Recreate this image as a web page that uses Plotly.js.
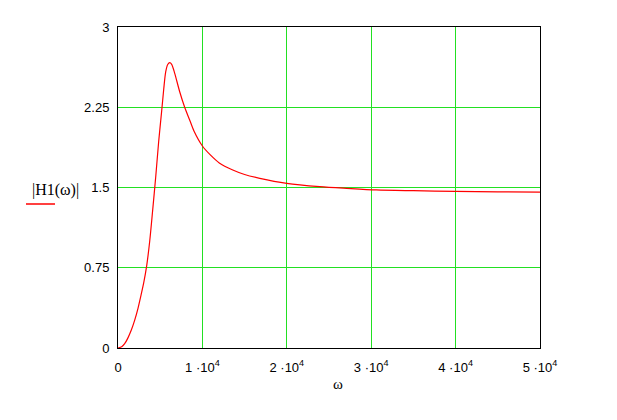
<!DOCTYPE html>
<html>
<head>
<meta charset="utf-8">
<script src="https://cdn.plot.ly/plotly-3.0.1.min.js"></script>
<style>html,body{margin:0;padding:0;background:#fff;}#chart{width:617px;height:420px;}</style>
</head>
<body>
<div id="chart"></div>
<script>
var omega = [0,440,790,1150,1590,1980,2370,2690,3050,3400,3760,4110,4470,4820,5180,5420,5650,5890,6130,6360,6720,7310,7900,8490,9000,10000,11000,12000,13600,15000,16800,20000,23900,27100,30600,35000,40000,45000,50000];
var H1 = [0,0.012,0.04,0.09,0.17,0.26,0.37,0.48,0.61,0.77,1.00,1.29,1.60,1.93,2.22,2.42,2.58,2.65,2.667,2.651,2.567,2.395,2.25,2.131,2.028,1.888,1.80,1.73,1.664,1.622,1.586,1.539,1.508,1.492,1.477,1.470,1.464,1.460,1.456];
var xTickVals = [0,10000,20000,30000,40000,50000];
var xTickText = ["0","1 \u00B710<sup>4</sup>","2 \u00B710<sup>4</sup>","3 \u00B710<sup>4</sup>","4 \u00B710<sup>4</sup>","5 \u00B710<sup>4</sup>"];
var yTickVals = [0,0.75,1.5,2.25,3];
var yTickText = ["0","0.75","1.5","2.25","3"];
var yLabel = "|H1(\u03C9)|";
var xLabel = "\u03C9";

var grid = '#22e022';
var trace = {x: omega, y: H1, type: 'scatter', mode: 'lines',
  line: {color: '#ff0000', width: 1.2, shape: 'spline', smoothing: 0.8},
  hoverinfo: 'skip', showlegend: false};

var layout = {
  width: 617, height: 420,
  margin: {l: 118, r: 77, t: 27, b: 72, pad: 0},
  paper_bgcolor: '#ffffff', plot_bgcolor: '#ffffff',
  font: {family: 'Liberation Sans, Arial, sans-serif', size: 13, color: '#000'},
  xaxis: {range: [0, 50000], tickvals: xTickVals, ticktext: xTickText,
    showgrid: true, gridcolor: grid, gridwidth: 1, zeroline: false,
    showline: true, linecolor: '#000', linewidth: 1, mirror: true,
    ticks: '', ticklabelstandoff: 7, fixedrange: true},
  yaxis: {range: [0, 3], tickvals: yTickVals, ticktext: yTickText,
    showgrid: true, gridcolor: grid, gridwidth: 1, zeroline: false,
    showline: true, linecolor: '#000', linewidth: 1, mirror: true,
    ticks: '', ticklabelstandoff: 5, fixedrange: true},
  annotations: [
    {text: yLabel, xref: 'paper', yref: 'paper', x: (55 - 118) / 422, y: (348 - 190) / 321,
     xanchor: 'center', yanchor: 'middle', showarrow: false,
     font: {family: 'Liberation Serif, Times New Roman, serif', size: 16, color: '#000'}},
    {text: xLabel, xref: 'paper', yref: 'paper', x: (338 - 118) / 422, y: (348 - 384) / 321,
     xanchor: 'center', yanchor: 'middle', showarrow: false,
     font: {family: 'Liberation Serif, Times New Roman, serif', size: 15, color: '#000'}}
  ],
  shapes: [
    {type: 'line', xref: 'paper', yref: 'paper', x0: (26 - 118) / 422, x1: (55 - 118) / 422,
     y0: (348 - 204) / 321, y1: (348 - 204) / 321, line: {color: '#ff0000', width: 1.5}}
  ]
};
Plotly.newPlot('chart', [trace], layout, {displayModeBar: false, staticPlot: true});
</script>
</body>
</html>
